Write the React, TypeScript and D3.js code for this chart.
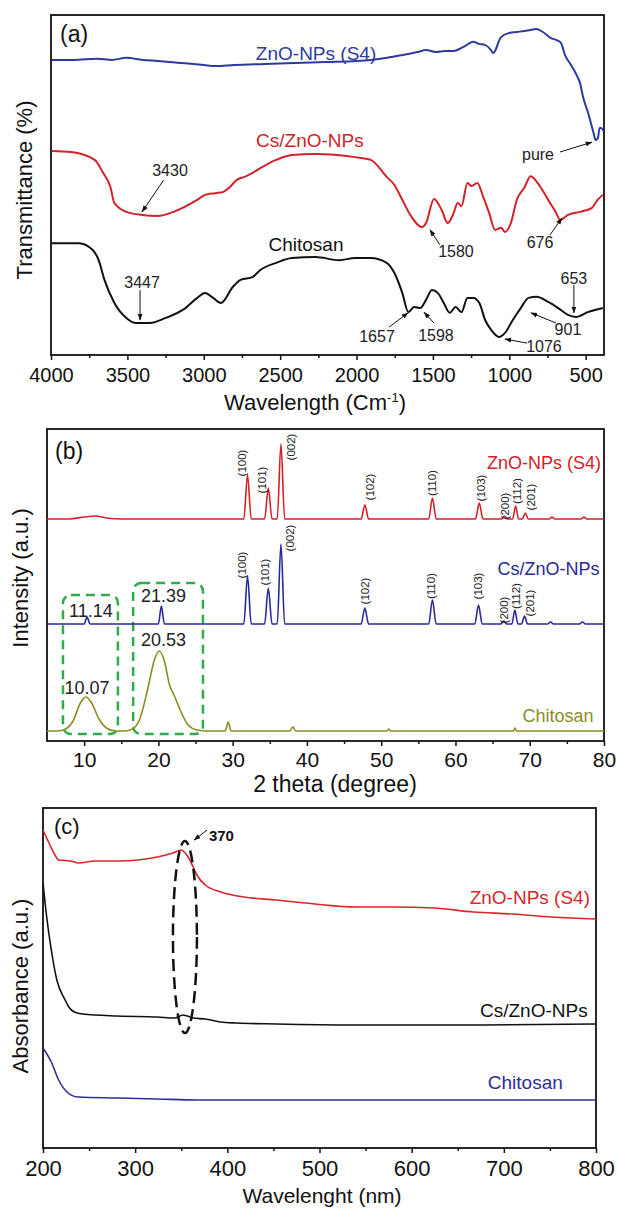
import React, { useEffect, useRef } from "react";
import * as d3 from "d3";

type Pt = [number, number];

// ---------- (a) FTIR : wavenumber (cm-1) vs transmittance (a.u.)
const ftirZnO: Pt[] = [
  [3996, 86.8], [3850, 86.8], [3700, 87.1], [3600, 86.8], [3508, 87.4], [3400, 86.8], [3300, 86.5],
  [3150, 85.9], [3000, 85.3], [2926, 85.0], [2800, 85.3], [2600, 85.6], [2400, 85.9], [2200, 86.2],
  [2000, 86.5], [1907, 86.8], [1800, 87.4], [1700, 88.2], [1600, 89.1], [1545, 89.7], [1480, 89.1],
  [1420, 89.4], [1364, 89.4], [1300, 90.6], [1235, 92.1], [1200, 91.5], [1160, 91.2], [1120, 89.7],
  [1106, 88.8], [1090, 89.7], [1070, 92.1], [1054, 93.5], [1000, 94.7], [951, 95.0], [900, 95.3],
  [860, 95.6], [825, 95.9], [780, 95.0], [727, 93.2], [690, 92.6], [662, 91.8], [635, 88.2],
  [596, 85.3], [560, 82.4], [537, 80.0], [517, 75.9], [480, 70.6], [450, 65.6], [434, 63.2],
  [420, 63.8], [409, 66.8], [398, 66.8], [385, 65.9],
];
const ftirCsZnO: Pt[] = [
  [3996, 60.0], [3869, 59.7], [3714, 57.4], [3662, 53.8], [3611, 49.4], [3585, 44.7], [3507, 42.1],
  [3404, 41.2], [3301, 40.9], [3198, 42.1], [3043, 45.6], [2991, 47.1], [2926, 47.6], [2875, 47.9],
  [2836, 49.1], [2784, 51.5], [2733, 52.4], [2526, 57.4], [2423, 58.8], [2268, 59.1], [2010, 58.2],
  [1907, 57.4], [1803, 52.4], [1752, 50.0], [1700, 45.6], [1648, 41.2], [1571, 37.6], [1545, 38.8],
  [1493, 45.9], [1442, 42.6], [1403, 38.8], [1364, 41.8], [1338, 44.7], [1313, 43.8], [1274, 50.6],
  [1248, 49.7], [1209, 50.6], [1171, 46.5], [1132, 41.8], [1093, 36.8], [1054, 37.4], [1028, 36.2],
  [990, 38.8], [951, 45.6], [899, 49.4], [861, 52.6], [796, 49.4], [745, 45.6], [693, 41.8],
  [667, 39.7], [616, 41.2], [538, 42.1], [461, 43.2], [422, 45.6], [388, 47.1],
];
const ftirChitosan: Pt[] = [
  [3996, 32.9], [3817, 32.9], [3727, 30.9], [3688, 27.9], [3650, 22.1], [3585, 15.3], [3507, 10.9],
  [3443, 9.4], [3353, 9.4], [3249, 10.9], [3120, 13.8], [3043, 16.8], [2991, 18.2], [2939, 16.8],
  [2888, 15.3], [2810, 20.0], [2759, 22.1], [2681, 22.9], [2630, 25.0], [2526, 27.1], [2423, 28.5],
  [2268, 28.8], [2113, 27.9], [2010, 28.5], [1907, 28.5], [1803, 27.1], [1752, 24.1], [1700, 18.2],
  [1661, 12.6], [1623, 14.1], [1584, 13.8], [1545, 16.2], [1506, 19.1], [1467, 18.2], [1429, 15.3],
  [1390, 12.4], [1351, 14.1], [1313, 12.6], [1274, 16.8], [1235, 16.8], [1196, 15.3], [1158, 10.3],
  [1119, 7.4], [1067, 5.3], [1028, 6.5], [977, 10.3], [925, 13.8], [874, 16.8], [822, 17.1],
  [745, 15.6], [680, 13.8], [616, 11.8], [564, 11.2], [486, 12.6], [388, 13.8],
];
const ftirTicks = [4000, 3500, 3000, 2500, 2000, 1500, 1000, 500];
const ftirMinorTicks = [3750, 3250, 2750, 2250, 1750, 1250, 750];
// label position, arrow start, arrow tip (all in data units)
const ftirNotes = [
  { label: "3430", at: [3221, 54.4], from: [3262, 51.5], to: [3404, 42.1] },
  { label: "1580", at: [1349, 30.3], from: [1454, 32.4], to: [1519, 36.8] },
  { label: "676", at: [799, 33.2], from: [734, 35.3], to: [655, 40.3] },
  { label: "pure", at: [812, 59.1], from: [668, 59.7], to: [459, 62.6] },
  { label: "3447", at: [3404, 21.2], from: [3417, 19.1], to: [3417, 10.3] },
  { label: "1657", at: [1866, 5.3], from: [1787, 8.2], to: [1663, 12.4] },
  { label: "1598", at: [1480, 5.6], from: [1493, 9.4], to: [1558, 12.6] },
  { label: "1076", at: [773, 2.6], from: [884, 3.5], to: [1028, 4.7] },
  { label: "901", at: [616, 7.4], from: [694, 9.4], to: [858, 12.4] },
  { label: "653", at: [577, 22.6], from: [577, 20.6], to: [577, 12.4] },
];

// ---------- (b) XRD : 2 theta vs intensity (a.u.)
const xrdZnO: Pt[] = [
  [5, 222], [8, 222], [10, 224], [11.5, 225], [13, 223], [15, 222], [31.5, 222], [32.0, 266], [32.5, 222],
  [34.3, 222], [34.8, 253], [35.3, 222], [36.0, 222], [36.5, 297], [37.0, 222], [47.3, 222], [47.8, 236],
  [48.3, 222], [56.4, 222], [56.9, 243], [57.4, 222], [62.7, 222], [63.2, 238], [63.7, 222], [66.2, 222],
  [66.6, 225], [67.0, 222], [67.7, 222], [68.1, 235], [68.5, 222], [69.0, 222], [69.4, 228], [69.8, 222],
  [72.6, 222], [73.0, 224], [73.4, 222], [76.9, 222], [77.3, 224], [77.7, 222], [80, 222],
];
const xrdCsZnO: Pt[] = [
  [5, 117], [10.0, 117], [10.4, 124], [10.8, 117], [20.0, 117], [20.4, 135], [20.8, 117], [31.5, 117],
  [32.0, 165], [32.5, 117], [34.3, 117], [34.8, 153], [35.3, 117], [36.0, 117], [36.5, 197], [37.0, 117],
  [47.3, 117], [47.8, 133], [48.3, 117], [56.4, 117], [56.9, 141], [57.4, 117], [62.6, 117], [63.1, 136],
  [63.6, 117], [66.1, 117], [66.5, 120], [66.9, 117], [67.6, 117], [68.0, 131], [68.4, 117], [68.9, 117],
  [69.3, 125], [69.7, 117], [72.4, 117], [72.8, 119], [73.2, 117], [76.7, 117], [77.1, 119], [77.5, 117],
  [80, 117],
];
const xrdChitosan: Pt[] = [
  [5, 10], [6.5, 10], [7.5, 12], [8.5, 20], [9.5, 38], [10.25, 44], [11, 38], [12, 22], [13, 13],
  [14.2, 10], [15.5, 10], [16.5, 12], [17.5, 22], [18.5, 50], [19.5, 82], [20.1, 90], [20.8, 80],
  [21.5, 56], [22.1, 46], [23, 30], [24, 16], [25.2, 11], [26.5, 10], [29, 10], [29.4, 19], [29.8, 10],
  [37.7, 10], [38.1, 14], [38.5, 10], [50.8, 10], [51, 12], [51.3, 10], [67.8, 10], [68, 13],
  [68.2, 10], [80, 10],
];
const xrdTicks = [10, 20, 30, 40, 50, 60, 70, 80];
const xrdMinorTicks = [15, 25, 35, 45, 55, 65, 75];
const xrdZnOPlanes = [
  { hkl: "(100)", at: [31.2, 278] }, { hkl: "(101)", at: [34.0, 261] }, { hkl: "(002)", at: [37.9, 294] },
  { hkl: "(102)", at: [48.5, 254] }, { hkl: "(110)", at: [56.9, 258] }, { hkl: "(103)", at: [63.4, 253] },
  { hkl: "(200)", at: [66.7, 235] }, { hkl: "(112)", at: [68.3, 250] }, { hkl: "(201)", at: [70.2, 244] },
];
const xrdCsZnOPlanes = [
  { hkl: "(100)", at: [31.2, 176] }, { hkl: "(101)", at: [34.3, 169] }, { hkl: "(002)", at: [37.7, 203] },
  { hkl: "(102)", at: [47.8, 150] }, { hkl: "(110)", at: [56.7, 155] }, { hkl: "(103)", at: [63.1, 155] },
  { hkl: "(200)", at: [66.6, 131] }, { hkl: "(112)", at: [68.1, 145] }, { hkl: "(201)", at: [70.1, 138] },
];
const xrdPeakNotes = [
  { label: "11.14", at: [10.9, 130] }, { label: "21.39", at: [20.7, 145] },
  { label: "20.53", at: [20.7, 101] }, { label: "10.07", at: [10.4, 53] },
];
const xrdBoxes = [
  { x: [7.15, 14.55], y: [7, 146] },
  { x: [16.6, 26.0], y: [7, 158] },
];

// ---------- (c) UV-Vis : wavelength (nm) vs absorbance (a.u.)
const uvZnO: Pt[] = [
  [200, 318], [206.5, 305], [213, 293], [217, 288], [230, 287], [239, 285], [256, 287], [281, 287],
  [303, 288], [324, 291], [341, 295], [350, 298], [356, 293], [363, 281], [367, 273], [376, 263],
  [393, 256], [418, 251], [453, 248], [495, 244], [538, 241], [581, 241], [624, 240], [667, 236],
  [709, 234], [752, 231], [800, 229],
];
const uvCsZnO: Pt[] = [
  [200, 265], [204, 231], [209, 198], [215, 168], [224, 148], [228, 141], [234, 136], [243, 134],
  [281, 132], [324, 131], [343, 130], [352, 133], [363, 130], [376, 129], [393, 126], [410, 125],
  [453, 124], [538, 123], [667, 123], [800, 124],
];
const uvChitosan: Pt[] = [
  [200, 100], [209, 86], [217, 68], [226, 56], [238, 51], [281, 50], [324, 49], [367, 48], [495, 48],
  [800, 48],
];
const uvTicks = [200, 300, 400, 500, 600, 700, 800];
const uvMinorTicks = [250, 350, 450, 550, 650, 750];
const uvBand = { center: [354, 211], rx: 13, ry: 96 };
const uvBandNote = { label: "370", at: [380, 313], from: [378, 318], to: [364, 308] };

const FONT = "'Liberation Sans', Arial, Helvetica, sans-serif";
const INK = "#111";

const App = () => {
  const ref = useRef<SVGSVGElement>(null);

  useEffect(() => {
    const svg = d3.select(ref.current);
    svg.selectAll("*").remove();

    svg.append("defs").append("marker")
      .attr("id", "arr").attr("viewBox", "0 0 10 10").attr("refX", 9).attr("refY", 5)
      .attr("markerWidth", 7).attr("markerHeight", 7).attr("orient", "auto")
      .append("path").attr("d", "M0,1.5 L10,5 L0,8.5 z").attr("fill", INK);

    const text = (x: number, y: number, s: string, size: number, color = INK, anchor = "middle", weight = "normal") =>
      svg.append("text").attr("x", x).attr("y", y).attr("font-family", FONT).attr("font-size", size)
        .attr("font-weight", weight).attr("fill", color).attr("text-anchor", anchor)
        .attr("dominant-baseline", "central").text(s);

    const vtext = (x: number, y: number, s: string, size: number, color = INK) =>
      svg.append("text").attr("transform", `translate(${x},${y}) rotate(-90)`)
        .attr("font-family", FONT).attr("font-size", size).attr("fill", color)
        .attr("text-anchor", "middle").attr("dominant-baseline", "central").text(s);

    const panel = (box: any, xDomain: number[], yDomain: number[], major: number[], minor: number[], fs: number, pad: number) => {
      const x = d3.scaleLinear().domain(xDomain).range([box.l, box.r]);
      const y = d3.scaleLinear().domain(yDomain).range([box.b, box.t]);
      const ax = svg.append("g").attr("transform", `translate(0,${box.b})`);
      ax.append("g").call(d3.axisBottom(x).tickValues(minor).tickSize(3).tickFormat(() => ""));
      ax.append("g").call(d3.axisBottom(x).tickValues(major).tickSize(5).tickPadding(pad).tickFormat(d3.format("d")));
      ax.selectAll(".domain").remove();
      ax.selectAll("line").attr("stroke", INK).attr("stroke-width", 1.5);
      ax.selectAll("text").attr("font-size", fs).attr("font-family", FONT).attr("fill", INK);
      svg.append("rect").attr("x", box.l).attr("y", box.t).attr("width", box.r - box.l).attr("height", box.b - box.t)
        .attr("fill", "none").attr("stroke", INK).attr("stroke-width", 1.8);
      return { x, y };
    };

    const curve = (data: Pt[], x: any, y: any, color: string, w: number) =>
      svg.append("path").datum(data).attr("fill", "none").attr("stroke", color).attr("stroke-width", w)
        .attr("stroke-linejoin", "round")
        .attr("d", d3.line<Pt>().x(d => x(d[0])).y(d => y(d[1])).curve(d3.curveMonotoneX));

    const arrow = (x: any, y: any, from: number[], to: number[]) =>
      svg.append("line").attr("x1", x(from[0])).attr("y1", y(from[1])).attr("x2", x(to[0])).attr("y2", y(to[1]))
        .attr("stroke", INK).attr("stroke-width", 1).attr("marker-end", "url(#arr)");

    // ----- panel (a)
    const A = { l: 51, r: 604, t: 15, b: 355 };
    const pa = panel(A, [4000, 380], [0, 100], ftirTicks, ftirMinorTicks, 20, 8);
    curve(ftirZnO, pa.x, pa.y, "#2d3a9e", 2);
    curve(ftirCsZnO, pa.x, pa.y, "#d2232a", 2);
    curve(ftirChitosan, pa.x, pa.y, INK, 2);
    text(pa.x(2265), pa.y(88.8), "ZnO-NPs (S4)", 19, "#2d3a9e");
    text(pa.x(2305), pa.y(63.2), "Cs/ZnO-NPs", 19, "#d2232a");
    text(pa.x(2331), pa.y(32.6), "Chitosan", 19, INK);
    ftirNotes.forEach(n => {
      arrow(pa.x, pa.y, n.from, n.to);
      text(pa.x(n.at[0]), pa.y(n.at[1]), n.label, 16, "#222");
    });
    text(A.l + 9, A.t + 19, "(a)", 23, INK, "start");
    vtext(24, 190, "Transmittance (%)", 22);
    const ta = svg.append("text").attr("x", 315).attr("y", 410).attr("font-family", FONT).attr("font-size", 22)
      .attr("fill", INK).attr("text-anchor", "middle");
    ta.append("tspan").text("Wavelength (Cm");
    ta.append("tspan").attr("font-size", 13).attr("dy", -8).text("-1");
    ta.append("tspan").attr("dy", 8).text(")");

    // ----- panel (b)
    const B = { l: 47, r: 604, t: 429, b: 741 };
    const pb = panel(B, [5, 80], [0, 312], xrdTicks, xrdMinorTicks, 21, 6);
    xrdBoxes.forEach(bx => {
      svg.append("rect").attr("x", pb.x(bx.x[0])).attr("y", pb.y(bx.y[1]))
        .attr("width", pb.x(bx.x[1]) - pb.x(bx.x[0])).attr("height", pb.y(bx.y[0]) - pb.y(bx.y[1]))
        .attr("rx", 8).attr("fill", "none").attr("stroke", "#2eab4b").attr("stroke-width", 2.5)
        .attr("stroke-dasharray", "9 6");
    });
    curve(xrdZnO, pb.x, pb.y, "#d42027", 1.6);
    curve(xrdCsZnO, pb.x, pb.y, "#28289a", 1.6);
    curve(xrdChitosan, pb.x, pb.y, "#8c8c23", 1.6);
    xrdZnOPlanes.forEach(p => vtext(pb.x(p.at[0]), pb.y(p.at[1]), p.hkl, 11.5, "#222"));
    xrdCsZnOPlanes.forEach(p => vtext(pb.x(p.at[0]), pb.y(p.at[1]), p.hkl, 11.5, "#222"));
    xrdPeakNotes.forEach(n => text(pb.x(n.at[0]), pb.y(n.at[1]), n.label, 18, "#222"));
    text(pb.x(79.6), pb.y(278), "ZnO-NPs (S4)", 18, "#d42027", "end");
    text(pb.x(79.4), pb.y(172), "Cs/ZnO-NPs", 18, "#28289a", "end");
    text(pb.x(78.6), pb.y(25), "Chitosan", 18, "#8c8c2c", "end");
    text(B.l + 8, B.t + 22, "(b)", 23, INK, "start");
    vtext(20, 578, "Intensity (a.u.)", 22);
    text(335, 784, "2 theta (degree)", 23);

    // ----- panel (c)
    const C = { l: 43, r: 596, t: 808, b: 1148 };
    const pc = panel(C, [200, 800], [0, 340], uvTicks, uvMinorTicks, 22, 7);
    curve(uvZnO, pc.x, pc.y, "#d8262b", 1.6);
    curve(uvCsZnO, pc.x, pc.y, INK, 1.6);
    curve(uvChitosan, pc.x, pc.y, "#2d2f96", 1.6);
    svg.append("ellipse").attr("cx", pc.x(uvBand.center[0])).attr("cy", pc.y(uvBand.center[1]))
      .attr("rx", pc.x(200 + uvBand.rx) - pc.x(200)).attr("ry", pc.y(0) - pc.y(uvBand.ry))
      .attr("fill", "none").attr("stroke", INK).attr("stroke-width", 2.5).attr("stroke-dasharray", "12 6");
    arrow(pc.x, pc.y, uvBandNote.from, uvBandNote.to);
    text(pc.x(uvBandNote.at[0]), pc.y(uvBandNote.at[1]), uvBandNote.label, 15, INK, "start", "bold");
    text(pc.x(793.5), pc.y(251), "ZnO-NPs (S4)", 19, "#d8262b", "end");
    text(pc.x(791), pc.y(138), "Cs/ZnO-NPs", 19, INK, "end");
    text(pc.x(764), pc.y(66), "Chitosan", 19, "#2d2f96", "end");
    text(C.l + 11, C.t + 18, "(c)", 22, INK, "start");
    vtext(20, 986, "Absorbance (a.u.)", 22);
    text(322, 1195, "Wavelenght (nm)", 21);
  }, []);

  return (
    <svg ref={ref} width={618} height={1208}
      style={{ position: "absolute", left: 0, top: 0, background: "#fff" }} />
  );
};

export default App;
